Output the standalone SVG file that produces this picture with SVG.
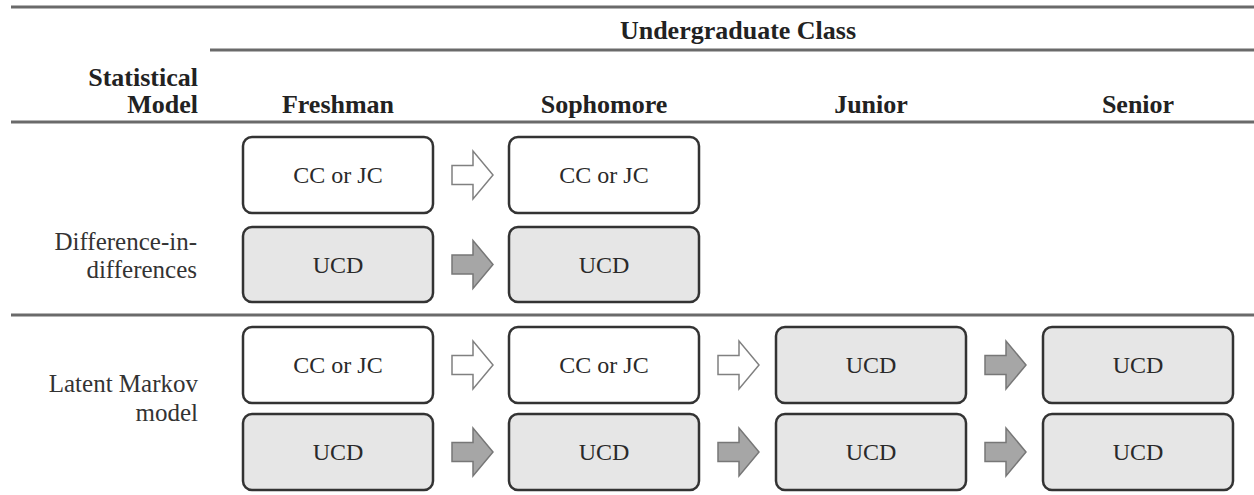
<svg xmlns="http://www.w3.org/2000/svg" width="1254" height="495" viewBox="0 0 1254 495">
<style>
.rule{stroke:#6a6a6a;stroke-width:3;fill:none}
.hdr{font-family:"Liberation Serif","Times New Roman",serif;font-weight:bold;font-size:26px;fill:#222}
.lbl{font-size:25px;fill:#333}
.box{stroke:#333;stroke-width:2.5}
.w{fill:#fff}
.g{fill:#e6e6e6}
.bt{font-size:24px;fill:#2a2a2a;text-anchor:middle}
.aw{fill:#fff;stroke:#808080;stroke-width:1.5}
.ag{fill:#a6a6a6;stroke:#777;stroke-width:1.5}
</style>
<defs>
<path id="arr" d="M0,-9.5 H21 V-24 L41,0 L21,24 V9.5 H0 Z"/>
</defs>
<g id="rules">
<line class="rule" x1="11" y1="7" x2="1254" y2="7"/>
<line class="rule" x1="210" y1="50" x2="1254" y2="50"/>
<line class="rule" x1="11" y1="122" x2="1254" y2="122"/>
<line class="rule" x1="11" y1="315" x2="1254" y2="315"/>
</g>
<g id="headers">
<text class="hdr" x="738" y="39" text-anchor="middle">Undergraduate Class</text>
<text class="hdr" x="198" y="86" text-anchor="end">Statistical</text>
<text class="hdr" x="198" y="113" text-anchor="end">Model</text>
<text class="hdr" x="338" y="113" text-anchor="middle">Freshman</text>
<text class="hdr" x="604" y="113" text-anchor="middle">Sophomore</text>
<text class="hdr" x="871" y="113" text-anchor="middle">Junior</text>
<text class="hdr" x="1138" y="113" text-anchor="middle">Senior</text>
</g>
<g id="row-labels" font-family="'Liberation Serif', 'Times New Roman', serif" font-weight="400">
<text class="lbl" x="197" y="250" text-anchor="end">Difference-in-</text>
<text class="lbl" x="197" y="278" text-anchor="end">differences</text>
<text class="lbl" x="198" y="392" text-anchor="end">Latent Markov</text>
<text class="lbl" x="198" y="421" text-anchor="end">model</text>
</g>
<g id="nodes" font-family="'Liberation Serif', 'Times New Roman', serif" font-weight="400">
<g id="n-r1c1"><rect class="box w" x="243" y="137" width="190" height="76" rx="9"/><text class="bt" x="338" y="183">CC or JC</text></g>
<g id="n-r1c2"><rect class="box w" x="509" y="137" width="190" height="76" rx="9"/><text class="bt" x="604" y="183">CC or JC</text></g>
<g id="n-r2c1"><rect class="box g" x="243" y="227" width="190" height="75" rx="9"/><text class="bt" x="338" y="273">UCD</text></g>
<g id="n-r2c2"><rect class="box g" x="509" y="227" width="190" height="75" rx="9"/><text class="bt" x="604" y="273">UCD</text></g>
<g id="n-r3c1"><rect class="box w" x="243" y="327" width="190" height="76" rx="9"/><text class="bt" x="338" y="373">CC or JC</text></g>
<g id="n-r3c2"><rect class="box w" x="509" y="327" width="190" height="76" rx="9"/><text class="bt" x="604" y="373">CC or JC</text></g>
<g id="n-r3c3"><rect class="box g" x="776" y="327" width="190" height="76" rx="9"/><text class="bt" x="871" y="373">UCD</text></g>
<g id="n-r3c4"><rect class="box g" x="1043" y="327" width="190" height="76" rx="9"/><text class="bt" x="1138" y="373">UCD</text></g>
<g id="n-r4c1"><rect class="box g" x="243" y="414" width="190" height="76" rx="9"/><text class="bt" x="338" y="460">UCD</text></g>
<g id="n-r4c2"><rect class="box g" x="509" y="414" width="190" height="76" rx="9"/><text class="bt" x="604" y="460">UCD</text></g>
<g id="n-r4c3"><rect class="box g" x="776" y="414" width="190" height="76" rx="9"/><text class="bt" x="871" y="460">UCD</text></g>
<g id="n-r4c4"><rect class="box g" x="1043" y="414" width="190" height="76" rx="9"/><text class="bt" x="1138" y="460">UCD</text></g>
</g>
<g id="connectors">
<use href="#arr" class="aw" transform="translate(452,175)"/>
<use href="#arr" class="ag" transform="translate(452,264.5)"/>
<use href="#arr" class="aw" transform="translate(452,365)"/>
<use href="#arr" class="aw" transform="translate(718,365)"/>
<use href="#arr" class="ag" transform="translate(985,365)"/>
<use href="#arr" class="ag" transform="translate(452,452)"/>
<use href="#arr" class="ag" transform="translate(718,452)"/>
<use href="#arr" class="ag" transform="translate(985,452)"/>
</g>
</svg>
